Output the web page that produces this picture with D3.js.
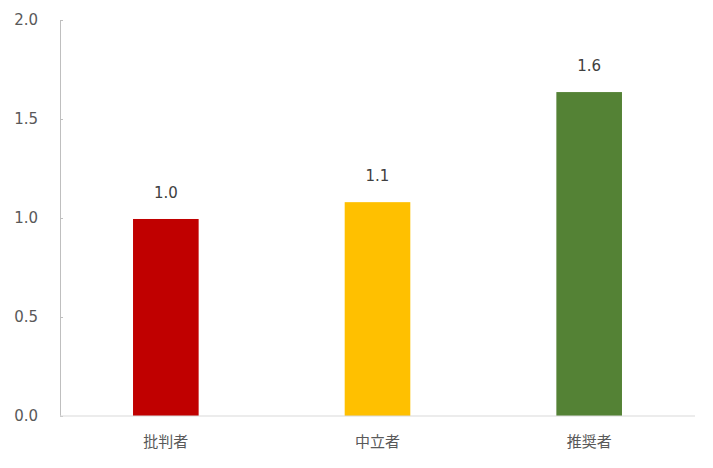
<!DOCTYPE html>
<html>
<head>
<meta charset="utf-8">
<script src="https://cdn.jsdelivr.net/npm/d3@7"></script>
<style>
  body { margin: 0; background: #fff; }
  text { font-family: "Noto Sans CJK JP", "DejaVu Sans", sans-serif; }
  .num { font-family: "DejaVu Sans", sans-serif; }
</style>
</head>
<body>
<div class="barchart"></div>
<script>
const categories = ["批判者", "中立者", "推奨者"];
const values = [0.995, 1.08, 1.636];
const valueLabels = ["1.0", "1.1", "1.6"];
const colors = ["#c00000", "#ffc000", "#548235"];
const yTicks = [0, 0.5, 1.0, 1.5, 2.0];

const width = 713;
const height = 468;
const margin = { top: 20, right: 18, bottom: 52, left: 60 };

const drawChart = () => {
  const svg = d3
    .select(".barchart")
    .append("svg")
    .attr("width", width)
    .attr("height", height);

  const x = d3
    .scaleBand()
    .domain(categories)
    .range([margin.left, width - margin.right])
    .paddingInner(0.69)
    .paddingOuter(0.345);

  const y = d3
    .scaleLinear()
    .domain([0, 2])
    .range([height - margin.bottom, margin.top]);

  // y axis
  const yAxis = svg
    .append("g")
    .attr("transform", `translate(${margin.left}, 0)`)
    .call(
      d3.axisRight(y)
        .tickValues(yTicks)
        .tickSize(3)
        .tickFormat(d3.format(".1f"))
    );
  yAxis.select(".domain").attr("stroke", "#bfbfbf");
  yAxis.selectAll(".tick line").attr("stroke", "#bfbfbf");
  yAxis
    .selectAll(".tick text")
    .attr("class", "num")
    .attr("x", -22)
    .attr("text-anchor", "end")
    .attr("fill", "#595959")
    .style("font-size", "15px");

  // bars
  svg
    .selectAll(".bar")
    .data(categories)
    .enter()
    .append("rect")
    .attr("class", "bar")
    .attr("x", (d) => x(d))
    .attr("width", x.bandwidth())
    .attr("y", (d, i) => y(values[i]))
    .attr("height", (d, i) => y(0) - y(values[i]))
    .style("fill", (d, i) => colors[i]);

  // baseline
  svg
    .append("line")
    .attr("x1", margin.left)
    .attr("x2", width - margin.right)
    .attr("y1", y(0))
    .attr("y2", y(0))
    .attr("stroke", "#d9d9d9")
    .attr("stroke-width", 1);

  // value labels
  svg
    .selectAll(".value")
    .data(categories)
    .enter()
    .append("text")
    .attr("class", "value num")
    .attr("x", (d) => x(d) + x.bandwidth() / 2)
    .attr("y", (d, i) => y(values[i]) - 21)
    .attr("text-anchor", "middle")
    .attr("fill", "#404040")
    .style("font-size", "15px")
    .text((d, i) => valueLabels[i]);

  // category labels
  svg
    .selectAll(".cat")
    .data(categories)
    .enter()
    .append("text")
    .attr("class", "cat")
    .attr("x", (d) => x(d) + x.bandwidth() / 2)
    .attr("y", y(0) + 31)
    .attr("text-anchor", "middle")
    .attr("fill", "#595959")
    .style("font-size", "15px")
    .text((d) => d);
};

drawChart();
</script>
</body>
</html>
